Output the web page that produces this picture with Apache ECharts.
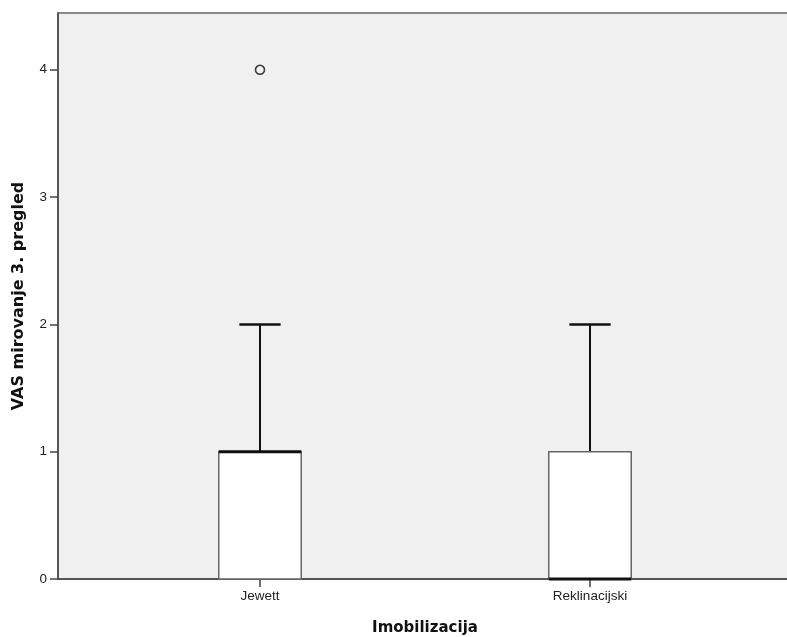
<!DOCTYPE html>
<html>
<head>
<meta charset="utf-8">
<script src="https://cdn.jsdelivr.net/npm/echarts@6/dist/echarts.min.js"></script>
<style>
html, body { margin: 0; padding: 0; background: #ffffff; }
#chart { width: 787px; height: 637px; }
</style>
</head>
<body>
<div id="chart"></div>
<script>
// ---- data ----
const categories = ['Jewett', 'Reklinacijski'];
const minValues = [0, 0];
const q1Values = [0, 0];
const medianValues = [1, 0];
const q3Values = [1, 1];
const maxValues = [2, 2];
const outlierCategories = ['Jewett'];
const outlierValues = [4];
const xAxisTitle = 'Imobilizacija';
const yAxisTitle = 'VAS mirovanje 3. pregled';
const yMin = 0, yMax = 4.446, yInterval = 1;

const boxData = categories.map((c, i) => [i, minValues[i], q1Values[i], medianValues[i], q3Values[i], maxValues[i]]);
const outlierData = outlierCategories.map((c, i) => [categories.indexOf(c), outlierValues[i]]);

const labelFont = { fontFamily: 'Liberation Sans, Arial, sans-serif', fontSize: 13.5, color: '#222' };
const titleFont = { fontFamily: 'DejaVu Sans, sans-serif', fontSize: 15, fontWeight: 'bold', color: '#111' };

function renderBox(params, api) {
  const idx = api.value(0);
  const vMin = api.value(1), vQ1 = api.value(2), vMed = api.value(3), vQ3 = api.value(4), vMax = api.value(5);
  const band = api.size([1, 0])[0];
  const boxW = band * 0.25;
  const capW = band * 0.125;
  const pQ1 = api.coord([idx, vQ1]);
  const pQ3 = api.coord([idx, vQ3]);
  const pMed = api.coord([idx, vMed]);
  const pMax = api.coord([idx, vMax]);
  const pMin = api.coord([idx, vMin]);
  const cx = pQ1[0];
  const children = [];
  if (vMax > vQ3) {
    children.push({ type: 'line', shape: { x1: cx, y1: pQ3[1], x2: cx, y2: pMax[1] }, style: { stroke: '#111', lineWidth: 2 } });
    children.push({ type: 'line', shape: { x1: cx - capW / 2, y1: pMax[1], x2: cx + capW / 2, y2: pMax[1] }, style: { stroke: '#111', lineWidth: 2.5 } });
  }
  if (vMin < vQ1) {
    children.push({ type: 'line', shape: { x1: cx, y1: pQ1[1], x2: cx, y2: pMin[1] }, style: { stroke: '#111', lineWidth: 2 } });
    children.push({ type: 'line', shape: { x1: cx - capW / 2, y1: pMin[1], x2: cx + capW / 2, y2: pMin[1] }, style: { stroke: '#111', lineWidth: 2.5 } });
  }
  children.push({ type: 'rect', shape: { x: cx - boxW / 2, y: pQ3[1], width: boxW, height: pQ1[1] - pQ3[1] }, style: { fill: '#ffffff', stroke: '#666', lineWidth: 1.5 } });
  children.push({ type: 'line', shape: { x1: cx - boxW / 2, y1: pMed[1], x2: cx + boxW / 2, y2: pMed[1] }, style: { stroke: '#111', lineWidth: 3 } });
  return { type: 'group', children: children };
}

const chart = echarts.init(document.getElementById('chart'), null, { renderer: 'canvas' });
chart.setOption({
  animation: false,
  backgroundColor: '#ffffff',
  grid: [
    { left: 58, width: 745, top: 13, bottom: 58, outerBoundsMode: 'none', containLabel: false, show: true, backgroundColor: '#f0f0f0', borderColor: '#8a8a8a', borderWidth: 2 },
    { left: 95, width: 660, top: 13, bottom: 58, outerBoundsMode: 'none', containLabel: false }
  ],
  xAxis: [
    {
      gridIndex: 0, type: 'value', min: 0, max: 1,
      axisLine: { show: true, onZero: false, lineStyle: { color: '#444', width: 1.5 } },
      axisTick: { show: false }, axisLabel: { show: false }, splitLine: { show: false }
    },
    {
      gridIndex: 1, type: 'category', data: categories,
      axisLine: { show: false },
      axisTick: { show: true, alignWithLabel: true, length: 8, lineStyle: { color: '#444', width: 1.5 } },
      axisLabel: Object.assign({ margin: 10 }, labelFont),
      splitLine: { show: false },
      name: xAxisTitle, nameLocation: 'middle', nameGap: 42, nameTextStyle: titleFont
    }
  ],
  yAxis: [
    {
      gridIndex: 0, type: 'value', min: yMin, max: yMax, interval: yInterval,
      axisLine: { show: true, onZero: false, lineStyle: { color: '#444', width: 1.5 } },
      axisTick: { show: true, length: 8, lineStyle: { color: '#444', width: 1.5 } },
      axisLabel: Object.assign({ margin: 11, showMaxLabel: false, padding: [3, 0, 0, 0] }, labelFont),
      splitLine: { show: false },
      name: yAxisTitle, nameLocation: 'middle', nameGap: 31, nameRotate: 90,
      nameTextStyle: Object.assign({}, titleFont, { fontSize: 16 })
    },
    { gridIndex: 1, type: 'value', min: yMin, max: yMax, show: false }
  ],
  series: [
    {
      type: 'custom', xAxisIndex: 1, yAxisIndex: 1,
      renderItem: renderBox,
      encode: { x: 0, y: [1, 2, 3, 4, 5] },
      data: boxData, z: 3
    },
    {
      type: 'scatter', xAxisIndex: 1, yAxisIndex: 1,
      data: outlierData, symbol: 'circle', symbolSize: 9,
      itemStyle: { color: 'rgba(0,0,0,0)', borderColor: '#333', borderWidth: 1.5, opacity: 1 },
      z: 4
    }
  ]
});
</script>
</body>
</html>
